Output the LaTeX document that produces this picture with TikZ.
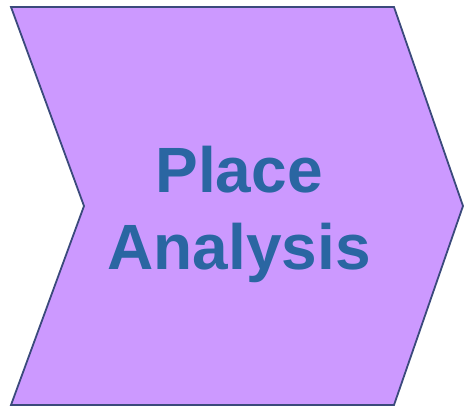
\documentclass[tikz,border=0pt]{standalone}
\usepackage{fontspec}
\setmainfont{Liberation Sans}
\definecolor{chevfill}{HTML}{CC99FF}
\definecolor{chevline}{HTML}{3B4A7C}
\definecolor{chevtext}{HTML}{2A66A2}
\tikzset{
  chevron/.style={fill=chevfill, draw=chevline, line width=1.8pt, line join=miter},
  label/.style={text=chevtext, font=\fontsize{64}{77}\selectfont\bfseries, inner sep=0pt, anchor=base}
}
\begin{document}
\begin{tikzpicture}[x=1pt,y=-1pt]
\useasboundingbox (0,0) rectangle (465,407);
\draw[chevron] (11,7) -- (394,7) -- (463,206) -- (394,405) -- (11,405) -- (84,206) -- cycle;
\node[label] (place) at (239,192) {Place};
\node[label] (analysis) at (239,269) {Analysis};
\end{tikzpicture}
\end{document}
